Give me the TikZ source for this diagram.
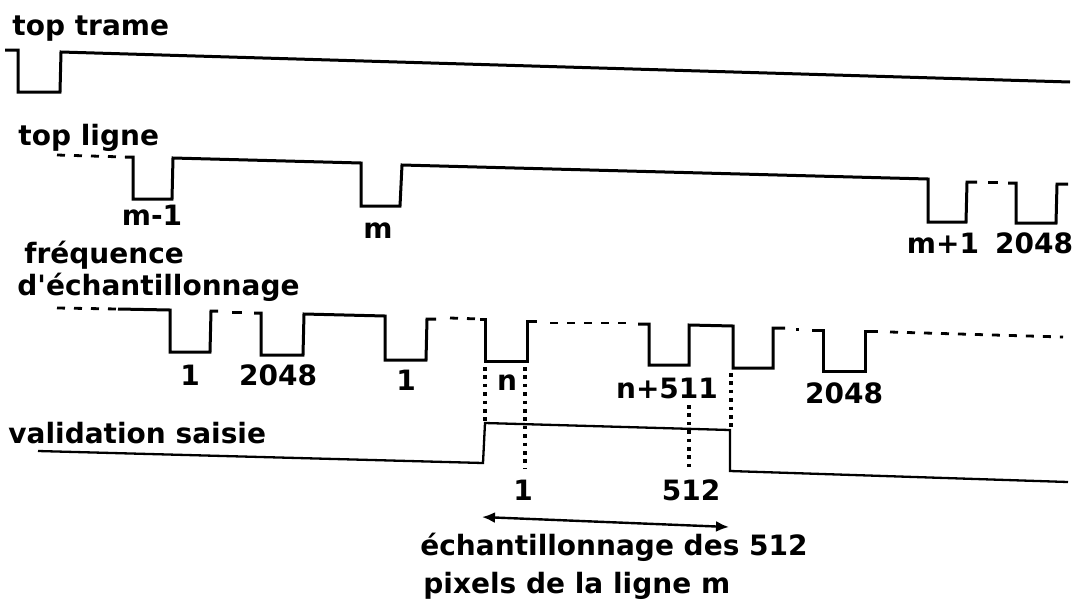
\documentclass[tikz,border=0pt]{standalone}
\usepackage{fontspec}
\setmainfont{DejaVu Sans}[Ligatures=TeXOff]
\usetikzlibrary{arrows.meta}

\begin{document}
\begin{tikzpicture}[
    x=0.5pt, y=-0.5pt,
    every node/.style={font=\fontsize{14}{17}\selectfont\bfseries, inner sep=0pt},
    signal/.style={line width=1.5pt, line join=miter},
    gate/.style={line width=1.15pt},
    dash part/.style={line width=1.4pt, dash pattern=on 4pt off 4.5pt},
    guide/.style={line width=1.6pt, dash pattern=on 1.8pt off 2.4pt},
    span arrow/.style={line width=1.2pt, {Latex[length=6.5pt,width=5.5pt]}-{Latex[length=6.5pt,width=5.5pt]}},
    sig name/.style={anchor=base west},
    pulse no/.style={anchor=base}
]
\useasboundingbox (0,0) rectangle (1081,606);

% Signal names
\node[sig name] (trame) at (12,35) {top trame};
\node[sig name] (ligne) at (18,145) {top ligne};
\node[sig name] (freq) at (24,263) {fréquence};
\node[sig name] (freqb) at (17,295) {d'échantillonnage};
\node[sig name] (valid) at (8,443) {validation saisie};

% top trame
\draw[signal] (5,50) -- (18,50) -- (18,92) -- (60,92) -- (61,52) -- (1070,82);

% top ligne
\draw[dash part] (57,155) -- (125,157);
\draw[signal] (125,157) -- (133,157) -- (133,199) -- (172,199) -- (173,158)
    -- (361,163) -- (361,206) -- (400,206) -- (402,165)
    -- (928,179) -- (928,222) -- (966,222) -- (967,182) -- (977,182);
\draw[signal] (988,182) -- (998,182);
\draw[signal] (1008,183) -- (1016,183) -- (1016,223) -- (1056,223) -- (1057,184) -- (1068,184);

\node[pulse no] (lm1) at (152,225) {m-1};
\node[pulse no] (lm) at (378,238) {m};
\node[pulse no] (lmp1) at (943,253) {m+1};
\node[pulse no] (llast) at (1034,253) {2048};

% frequence d'echantillonnage
\draw[dash part] (57,308) -- (118,309);
\draw[signal] (118,309) -- (170,310) -- (170,352) -- (210,352) -- (211,311) -- (218,311);
\draw[signal] (232,312) -- (242,312);
\draw[signal] (254,313) -- (261,313) -- (261,355) -- (303,355) -- (304,314)
    -- (385,316) -- (385,360) -- (426,360) -- (427,319) -- (436,319);
\draw[dash part] (450,318) -- (480,319);
\draw[signal] (480,319) -- (485,319) -- (485,361) -- (527,361) -- (527,321) -- (537,321);
\draw[dash part] (550,323) -- (630,323);
\draw[signal] (638,324) -- (649,324) -- (649,365) -- (689,365) -- (689,325)
    -- (733,326) -- (733,368) -- (773,368) -- (773,328) -- (785,328);
\draw[signal] (796,329) -- (799,329);
\draw[signal] (812,330) -- (823,330) -- (823,371) -- (865,371) -- (865,331) -- (878,331);
\draw[dash part] (890,332) -- (1063,337);

\node[pulse no] (f1) at (190,385) {1};
\node[pulse no] (f2048) at (278,385) {2048};
\node[pulse no] (f1b) at (406,390) {1};
\node[pulse no] (fn) at (507,390) {n};
\node[pulse no] (fn511) at (667,398) {n+511};
\node[pulse no] (f2048b) at (844,403) {2048};

% validation saisie
\draw[gate] (38,451) -- (483,463) -- (485,423) -- (730,430) -- (730,471) -- (1068,482);

% guides
\draw[guide] (485,367) -- (485,421);
\draw[guide] (525,367) -- (525,468);
\draw[guide] (689,405) -- (689,470);
\draw[guide] (731,373) -- (731,428);

\node[pulse no] (v1) at (523,500) {1};
\node[pulse no] (v512) at (691,500) {512};

% span
\coordinate (spanL) at (482,517);
\coordinate (spanR) at (729,527);
\draw[span arrow] (spanL) -- (spanR);
\node[anchor=base west] (txta) at (420,555) {échantillonnage des 512};
\node[anchor=base west] (txtb) at (423,593) {pixels de la ligne m};

\end{tikzpicture}
\end{document}
